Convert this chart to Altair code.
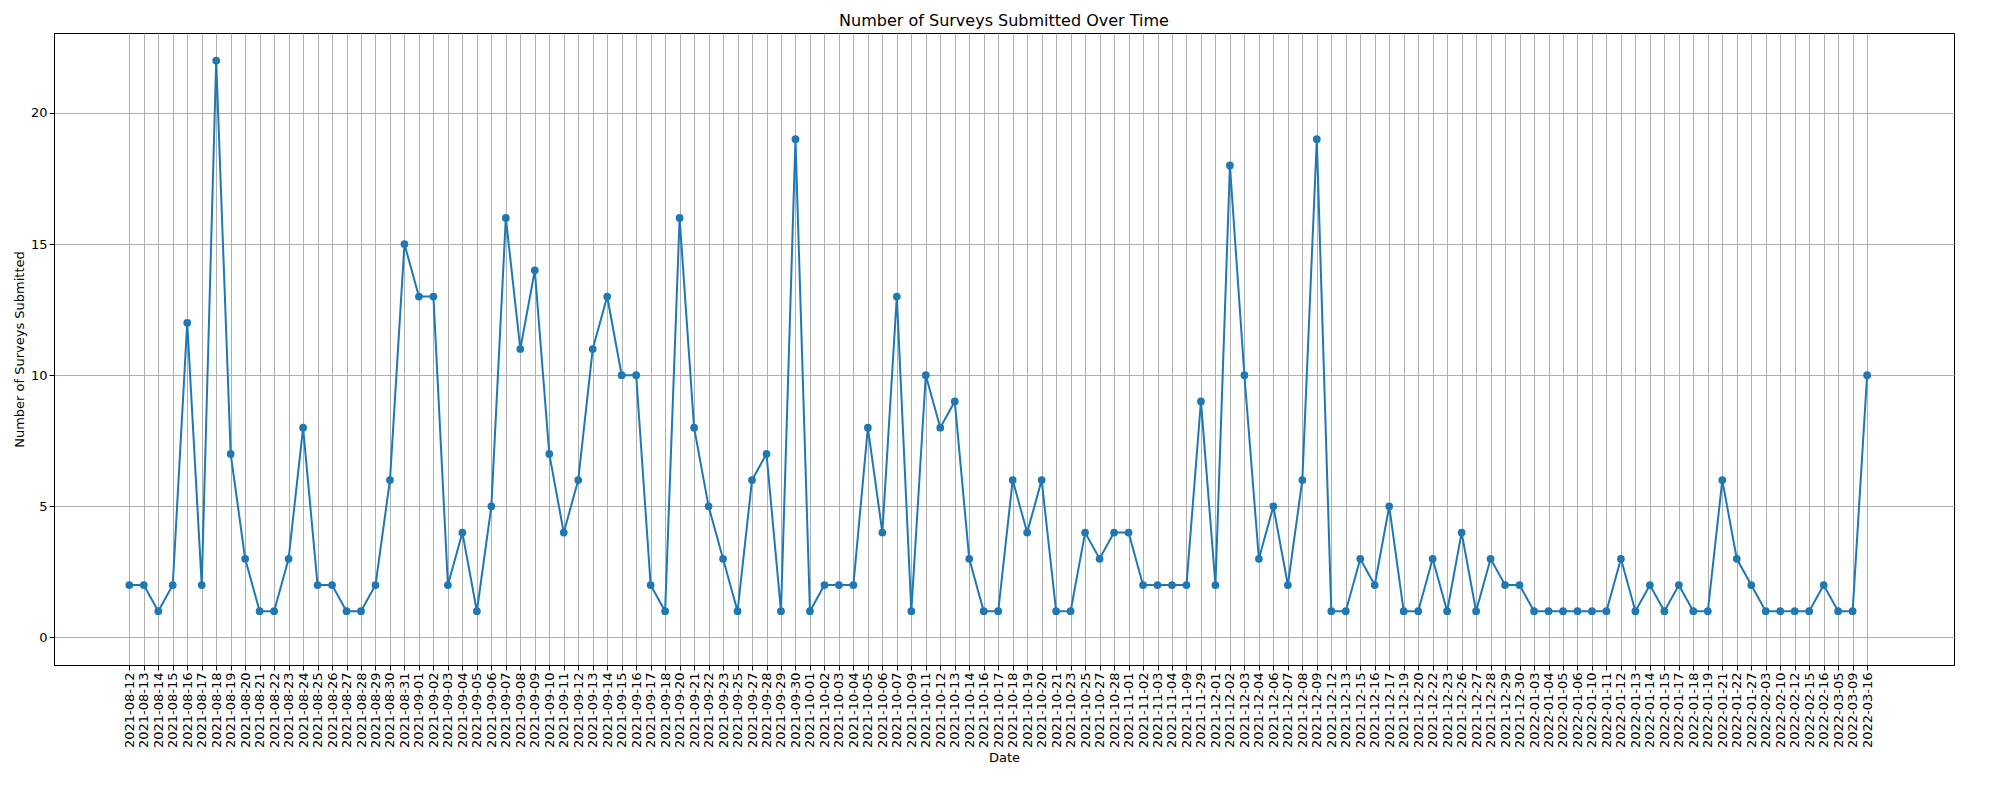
import json
import pandas as pd
import altair as alt

# ── data ─────────────────────────────────────────────────────────────────────

DATES = [
    "2021-08-12", "2021-08-13", "2021-08-14", "2021-08-15", "2021-08-16", "2021-08-17",
    "2021-08-18", "2021-08-19", "2021-08-20", "2021-08-21", "2021-08-22", "2021-08-23",
    "2021-08-24", "2021-08-25", "2021-08-26", "2021-08-27", "2021-08-28", "2021-08-29",
    "2021-08-30", "2021-08-31", "2021-09-01", "2021-09-02", "2021-09-03", "2021-09-04",
    "2021-09-05", "2021-09-06", "2021-09-07", "2021-09-08", "2021-09-09", "2021-09-10",
    "2021-09-11", "2021-09-12", "2021-09-13", "2021-09-14", "2021-09-15", "2021-09-16",
    "2021-09-17", "2021-09-18", "2021-09-20", "2021-09-21", "2021-09-22", "2021-09-23",
    "2021-09-25", "2021-09-27", "2021-09-28", "2021-09-29", "2021-09-30", "2021-10-01",
    "2021-10-02", "2021-10-03", "2021-10-04", "2021-10-05", "2021-10-06", "2021-10-07",
    "2021-10-09", "2021-10-11", "2021-10-12", "2021-10-13", "2021-10-14", "2021-10-16",
    "2021-10-17", "2021-10-18", "2021-10-19", "2021-10-20", "2021-10-21", "2021-10-23",
    "2021-10-25", "2021-10-27", "2021-10-28", "2021-11-01", "2021-11-02", "2021-11-03",
    "2021-11-04", "2021-11-09", "2021-11-29", "2021-12-01", "2021-12-02", "2021-12-03",
    "2021-12-04", "2021-12-06", "2021-12-07", "2021-12-08", "2021-12-09", "2021-12-12",
    "2021-12-13", "2021-12-15", "2021-12-16", "2021-12-17", "2021-12-19", "2021-12-20",
    "2021-12-22", "2021-12-23", "2021-12-26", "2021-12-27", "2021-12-28", "2021-12-29",
    "2021-12-30", "2022-01-03", "2022-01-04", "2022-01-05", "2022-01-06", "2022-01-10",
    "2022-01-11", "2022-01-12", "2022-01-13", "2022-01-14", "2022-01-15", "2022-01-17",
    "2022-01-18", "2022-01-19", "2022-01-21", "2022-01-22", "2022-01-27", "2022-02-03",
    "2022-02-10", "2022-02-12", "2022-02-15", "2022-02-16", "2022-03-05", "2022-03-09",
    "2022-03-16",
]

SURVEYS = [
    2, 2, 1, 2, 12, 2, 22, 7, 3, 1,
    1, 3, 8, 2, 2, 1, 1, 2, 6, 15,
    13, 13, 2, 4, 1, 5, 16, 11, 14, 7,
    4, 6, 11, 13, 10, 10, 2, 1, 16, 8,
    5, 3, 1, 6, 7, 1, 19, 1, 2, 2,
    2, 8, 4, 13, 1, 10, 8, 9, 3, 1,
    1, 6, 4, 6, 1, 1, 4, 3, 4, 4,
    2, 2, 2, 2, 9, 2, 18, 10, 3, 5,
    2, 6, 19, 1, 1, 3, 2, 5, 1, 1,
    3, 1, 4, 1, 3, 2, 2, 1, 1, 1,
    1, 1, 1, 3, 1, 2, 1, 2, 1, 1,
    6, 3, 2, 1, 1, 1, 1, 2, 1, 1,
    10,
]

LINE_COLOR = "#1f77b4"
GRID_COLOR = "#b0b0b0"
FONT = "DejaVu Sans"

df = pd.DataFrame({"idx": range(len(DATES)), "date": DATES, "n": SURVEYS})
n_pts = len(DATES)

# ── chart ────────────────────────────────────────────────────────────────────

axis_style = dict(grid=True, gridColor=GRID_COLOR, labelFontSize=13, titleFontSize=13,
                  titleFontWeight="normal", tickColor="black", domainColor="black",
                  labelColor="black", titleColor="black")

base = alt.Chart(df).encode(
    x=alt.X(
        "idx:Q",
        title="Date",
        scale=alt.Scale(domain=[-5.2, n_pts - 1 + 6.0], nice=False, zero=False),
        axis=alt.Axis(values=list(range(n_pts)), labelAngle=-90, labelOverlap=False,
                      labelExpr=f"{json.dumps(DATES)}[datum.value]", **axis_style),
    ),
    y=alt.Y(
        "n:Q",
        title="Number of Surveys Submitted",
        scale=alt.Scale(domain=[-1.05, 23.05], nice=False, zero=False),
        axis=alt.Axis(values=[0, 5, 10, 15, 20], **axis_style),
    ),
    tooltip=["date:N", "n:Q"],
)

line = base.mark_line(color=LINE_COLOR, strokeWidth=2)
dots = base.mark_circle(color=LINE_COLOR, size=60, opacity=1)

chart = (
    alt.layer(line, dots)
    .properties(
        width=1900,
        height=632,
        title=alt.Title("Number of Surveys Submitted Over Time", fontSize=16,
                        fontWeight="normal", color="black"),
    )
    .configure(font=FONT, background="white")
    .configure_view(stroke="black", strokeWidth=1)
)

chart.save("out.html", embed_options={"renderer": "svg", "actions": False})
